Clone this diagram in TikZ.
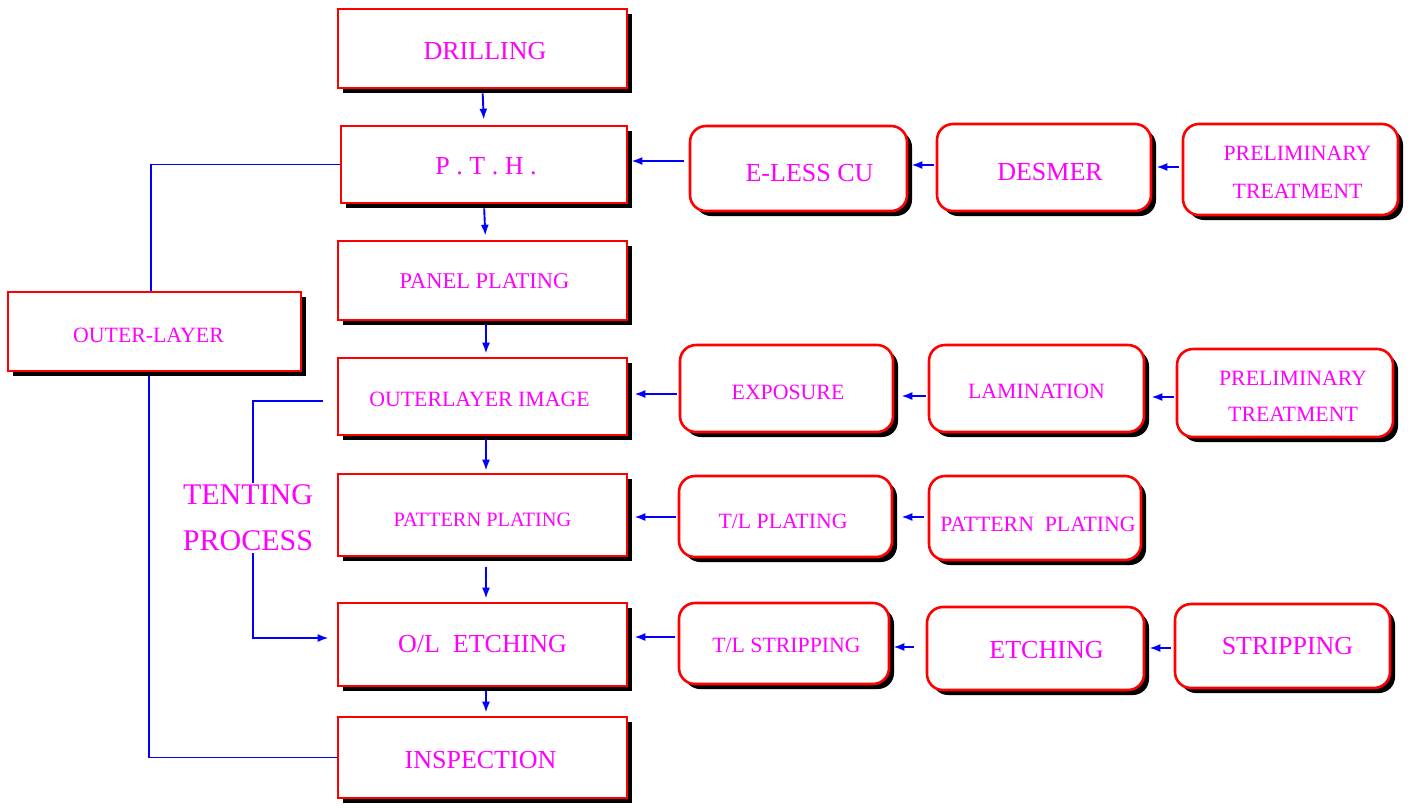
\documentclass[tikz,border=0pt]{standalone}
\usepackage{fontspec}
\setmainfont{Liberation Serif}
\usetikzlibrary{arrows.meta,shadows}
\definecolor{mag}{RGB}{255,0,255}
\definecolor{lblue}{RGB}{0,0,255}
\newcommand{\lowtext}[2]{\raisebox{-#1pt}[\height][\depth]{#2}}
\begin{document}
\begin{tikzpicture}[x=1pt,y=-1pt,
 box/.style={rectangle, draw=red, line width=2.6pt, fill=white, inner sep=0pt, text=mag, align=center,
   general shadow={fill=black, shadow xshift=5pt, shadow yshift=-5pt}},
 rbox/.style={box, rounded corners=16pt},
 szbig/.style={font=\fontsize{26}{30}\selectfont},
 szmid/.style={font=\fontsize{21.8}{26}\selectfont},
 szsmall/.style={font=\fontsize{20.4}{24}\selectfont},
 arr/.style={draw=lblue, line width=1.9pt, -{Latex[length=11pt,width=8pt]}},
 conn/.style={draw=lblue, line width=1.9pt},
]
\useasboundingbox[fill=white] (0,0) rectangle (1409,807);

% main column
\node[box,szbig,minimum width=289pt,minimum height=79pt] (drill) at (482.5,48.5) {\lowtext{3}{\hspace*{5pt}DRILLING}};
\node[box,szbig,minimum width=286pt,minimum height=77pt] (pth) at (484,164.5) {\lowtext{2}{\hspace*{4pt}P . T . H .}};
\node[box,font=\fontsize{22.5}{26}\selectfont,minimum width=289pt,minimum height=79pt] (panel) at (482.5,280.5) {\lowtext{1}{\hspace*{4pt}PANEL PLATING}};
\node[box,szmid,minimum width=289pt,minimum height=77pt] (oli) at (482.5,396.5) {\lowtext{3}{OUTERLAYER IMAGE\hspace*{6pt}}};
\node[box,szsmall,minimum width=289pt,minimum height=82pt] (patt) at (482.5,515) {\lowtext{5}{PATTERN PLATING}};
\node[box,szbig,minimum width=289pt,minimum height=83pt] (olet) at (482.5,644.5) {O/L\ \ ETCHING};
\node[box,szbig,minimum width=289pt,minimum height=81pt] (insp) at (482.5,757.5) {\lowtext{3}{INSPECTION\hspace*{4pt}}};
\node[box,szmid,minimum width=293pt,minimum height=79pt] (outer) at (154.5,331.5) {\lowtext{4}{OUTER-LAYER\hspace*{12pt}}};

% row 1
\node[rbox,szbig,minimum width=217pt,minimum height=85pt] (eless) at (798.5,168.5) {\lowtext{5}{\hspace*{22pt}E-LESS CU}};
\node[rbox,szbig,minimum width=214pt,minimum height=87pt] (desmer) at (1044,167.5) {\lowtext{5}{\hspace*{12pt}DESMER}};
\node[rbox,font=\fontsize{21.8}{38}\selectfont,minimum width=215pt,minimum height=91pt] (prel1) at (1290.5,169.5) {\lowtext{3}{\hspace*{14pt}PRELIMINARY}\\\lowtext{3}{\hspace*{14pt}TREATMENT}};
% row 2
\node[rbox,szmid,minimum width=213pt,minimum height=87pt] (expo) at (786.5,388.5) {\lowtext{4}{\hspace*{3pt}EXPOSURE}};
\node[rbox,szmid,minimum width=215pt,minimum height=87pt] (lami) at (1036.5,388.5) {\lowtext{3}{LAMINATION}};
\node[rbox,font=\fontsize{21.8}{36}\selectfont,minimum width=216pt,minimum height=88pt] (prel2) at (1285,393) {\lowtext{3}{\hspace*{16pt}PRELIMINARY}\\\lowtext{3}{\hspace*{16pt}TREATMENT}};
% row 3
\node[rbox,szmid,minimum width=213pt,minimum height=81pt] (tlplat) at (785.5,516.5) {\lowtext{5}{T/L PLATING\hspace*{5pt}}};
\node[rbox,szmid,minimum width=212pt,minimum height=84pt] (pattr) at (1035,518) {\lowtext{6}{\hspace*{6pt}PATTERN\ \ PLATING}};
% row 4
\node[rbox,szmid,minimum width=210pt,minimum height=81pt] (tlstrip) at (784,643.5) {\lowtext{2}{\hspace*{5pt}T/L STRIPPING}};
\node[rbox,szbig,minimum width=217pt,minimum height=83pt] (etch) at (1035.5,648.5) {\lowtext{2}{\hspace*{22pt}ETCHING}};
\node[rbox,szbig,minimum width=215pt,minimum height=84pt] (strip) at (1282.5,646) {\hspace*{10pt}STRIPPING};

% tenting label
\node[text=mag,font=\fontsize{30}{46}\selectfont,align=center,inner sep=2pt] (tent) at (248,518) {TENTING\\PROCESS};
\coordinate (t1) at (323,401);

% vertical arrows
\draw[arr,shorten <=4pt,shorten >=5pt] (drill.south) -- (pth.north);
\draw[arr,shorten <=4pt,shorten >=4pt] (pth.south) -- ([xshift=3pt]panel.north);
\draw[arr,shorten <=3pt,shorten >=3pt] ([xshift=3.5pt]panel.south) -- ([xshift=3.5pt]oli.north);
\draw[arr,shorten <=3pt,shorten >=2pt] ([xshift=3.5pt]oli.south) -- ([xshift=3.5pt]patt.north);
\draw[arr,shorten <=10pt,shorten >=3pt] ([xshift=3.5pt]patt.south) -- ([xshift=3.5pt]olet.north);
\draw[arr,shorten <=4pt,shorten >=3pt] ([xshift=3.5pt]olet.south) -- ([xshift=3.5pt]insp.north);

% horizontal arrows
\draw[arr,shorten <=5pt,shorten >=3pt] (eless.west |- 0,161) -- (pth.east |- 0,161);
\draw[arr,shorten <=2pt,shorten >=3pt] (desmer.west |- 0,165) -- (eless.east |- 0,165);
\draw[arr,shorten <=3pt,shorten >=4pt] (prel1.west |- 0,167) -- (desmer.east |- 0,167);
\draw[arr,shorten <=2pt,shorten >=6pt] (expo.west |- 0,394) -- (oli.east |- 0,394);
\draw[arr,shorten <=2pt,shorten >=7pt] (lami.west |- 0,396) -- (expo.east |- 0,396);
\draw[arr,shorten <=2pt,shorten >=6pt] (prel2.west |- 0,397) -- (lami.east |- 0,397);
\draw[arr,shorten <=2pt,shorten >=6pt] (tlplat.west |- 0,517) -- (patt.east |- 0,517);
\draw[arr,shorten <=4pt,shorten >=8pt] (pattr.west |- 0,517) -- (tlplat.east |- 0,517);
\draw[arr,shorten <=3pt,shorten >=6pt] (tlstrip.west |- 0,637) -- (olet.east |- 0,637);
\draw[arr,shorten <=12pt,shorten >=3pt] (etch.west |- 0,647) -- (tlstrip.east |- 0,647);
\draw[arr,shorten <=3pt,shorten >=4pt] (strip.west |- 0,648) -- (etch.east |- 0,648);

% connectors
\draw[conn] (pth.west) -| ([xshift=-3.5pt]outer.north);
\draw[conn] ([xshift=-5.5pt,yshift=-4pt]outer.south) |- (insp.west);
\draw[conn] (t1) -| ([xshift=5pt]tent.north);
\draw[arr,shorten >=8pt] ([xshift=5pt]tent.south) |- (olet.west |- 0,638);
\end{tikzpicture}
\end{document}
